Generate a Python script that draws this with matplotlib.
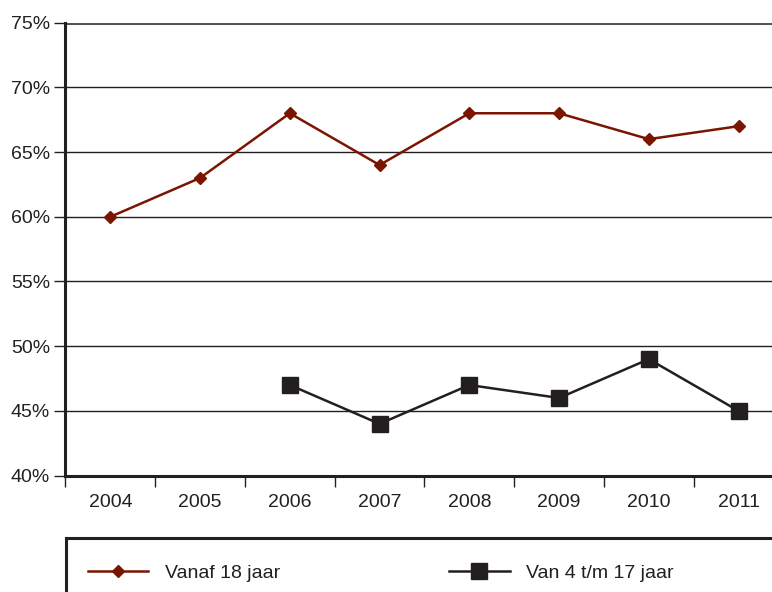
import matplotlib
matplotlib.use("Agg")
import matplotlib.pyplot as plt
import numpy as np

years = ["2004", "2005", "2006", "2007", "2008", "2009", "2010", "2011"]
adults = [60, 63, 68, 64, 68, 68, 66, 67]
youth = [np.nan, np.nan, 47, 44, 47, 46, 49, 45]
yticks = [40, 45, 50, 55, 60, 65, 70, 75]
label_adults = "Vanaf 18 jaar"
label_youth = "Van 4 t/m 17 jaar"

plt.rcParams['font.family'] = ["Liberation Sans", "DejaVu Sans"]

RED = "#7a1500"
DARK = "#231f20"
FS = 14

fig = plt.figure(figsize=(7.72, 5.92), dpi=100)
ax = fig.add_axes([0.0848, 0.1966, 0.93, 0.9617 - 0.1966])
x = np.arange(len(years))

ax.plot(x, adults, color=RED, lw=1.8, marker="D", ms=6.5, mfc=RED, mec=RED, label=label_adults)
ax.plot(x, youth, color=DARK, lw=1.8, marker="s", ms=12, mfc=DARK, mec=DARK, label=label_youth)

ax.set_xlim(-0.5, 7.5)
ax.set_ylim(40, 75)
ax.set_yticks(yticks)
ax.set_yticklabels([f"{v}%" for v in yticks])
ax.set_xticks(x)
ax.set_xticklabels(years)
ax.set_xticks(np.arange(-0.5, 8, 1), minor=True)
ax.tick_params(axis="x", which="major", length=0, pad=13, labelsize=FS, colors=DARK)
ax.tick_params(axis="x", which="minor", length=8, width=1, color=DARK, direction="out")
ax.tick_params(axis="y", which="major", length=8, width=1, color=DARK, labelsize=FS, labelcolor=DARK, pad=3)
for v in yticks[1:-1]:
    ax.axhline(v, color=DARK, lw=1.0, zorder=0)
ax.axhline(75, color="#555555", lw=2.2, zorder=0)
for s in ["top", "right"]:
    ax.spines[s].set_visible(False)
for s in ["left", "bottom"]:
    ax.spines[s].set_linewidth(2.2)
    ax.spines[s].set_color(DARK)

# legend box
lax = fig.add_axes([0.0855, -0.05, 0.95, 1 - 538/592 + 0.05])
lax.set_xlim(0, 1)
lax.set_ylim(0, 1)
lax.set_xticks([])
lax.set_yticks([])
for s in ["bottom", "right"]:
    lax.spines[s].set_visible(False)
for s in ["top", "left"]:
    lax.spines[s].set_linewidth(2.2)
    lax.spines[s].set_color(DARK)
lax.legend(*ax.get_legend_handles_labels(), loc="center left", ncol=2,
           frameon=False, fontsize=FS, handlelength=3.1, columnspacing=8.7,
           borderpad=0, borderaxespad=0,
           bbox_to_anchor=(0.03, 0.58), handletextpad=0.85, labelcolor=DARK)

fig.savefig("out.png", dpi=100)
